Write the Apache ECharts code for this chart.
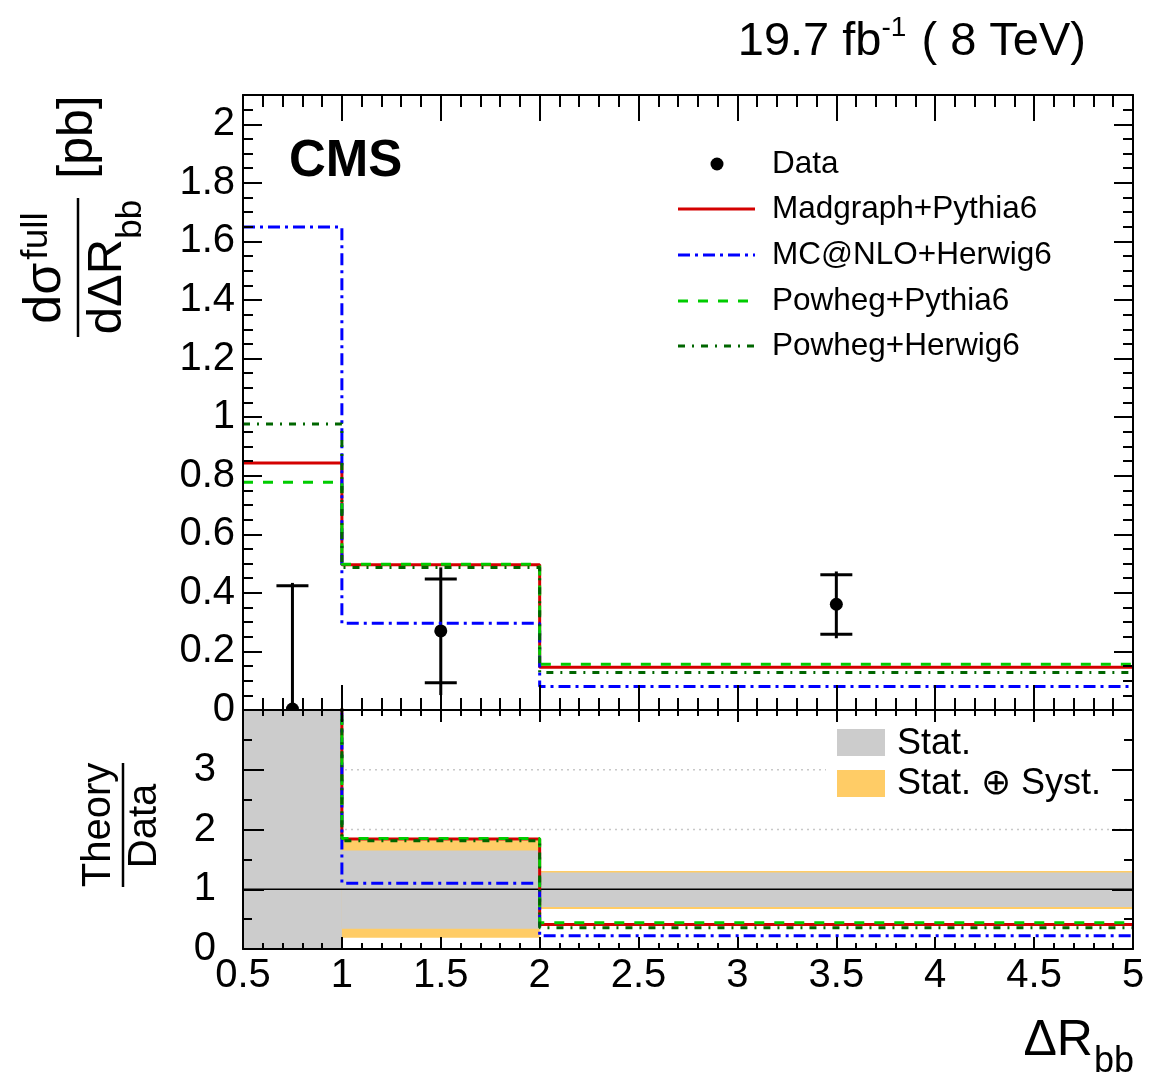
<!DOCTYPE html>
<html><head><meta charset="utf-8">
<script src="https://cdn.jsdelivr.net/npm/echarts@6/dist/echarts.min.js"></script>
<style>html,body{margin:0;padding:0;background:#fff}#c{width:1165px;height:1074px}</style>
</head><body><div id="c"></div>
<script>
// ---- data ----
const binEdges = [0.5, 1, 2, 5];
const madgraph = [0.843, 0.496, 0.146];
const mcatnlo = [1.649, 0.296, 0.080];
const powhegPythia = [0.778, 0.498, 0.156];
const powhegHerwig = [0.977, 0.487, 0.128];

const dataX = [0.75, 1.5, 3.5];
const dataY = [0.003, 0.270, 0.361];
const statLo = [0.000, 0.093, 0.259];
const statHi = [0.424, 0.447, 0.462];
const totLo = [0.000, 0.051, 0.245];
const totHi = [0.434, 0.487, 0.473];

// ratio panel (first bin is off-scale, data ~ 0)
const ratioMadgraph = [280, 1.84, 0.41];
const ratioMcatnlo = [550, 1.10, 0.22];
const ratioPowhegPythia = [260, 1.85, 0.44];
const ratioPowhegHerwig = [325, 1.81, 0.355];
const bandStatLo = [0, 0.34, 0.705];
const bandStatHi = [4, 1.65, 1.28];
const bandTotLo = [0, 0.19, 0.67];
const bandTotHi = [4, 1.82, 1.305];
const ratioRefLines = [1, 2, 3];

const legendNames = ['Data', 'Madgraph+Pythia6', 'MC@NLO+Herwig6', 'Powheg+Pythia6', 'Powheg+Herwig6'];

// ---- styles ----
const FONT = "'Liberation Sans', Arial, Helvetica, sans-serif";
const sty = {
  mad: { color: '#d40000', type: 'solid' },
  mc: { color: '#0000ff', type: [12, 5, 3, 5] },
  pp: { color: '#00cc00', type: [10, 10] },
  ph: { color: '#006600', type: [7, 7, 2, 7] }
};
const LW = 3;

function stepPts(v) {
  return [[binEdges[0], v[0]], [binEdges[1], v[1]], [binEdges[2], v[2]], [binEdges[3], v[2]]];
}
function stepSeries(name, v, s, xi, yi) {
  return {
    name, type: 'line', step: 'end', data: stepPts(v), symbol: 'none', clip: true,
    xAxisIndex: xi, yAxisIndex: yi, z: 7, silent: true, animation: false,
    lineStyle: { color: s.color, width: LW, type: s.type }
  };
}
function bandData(lo, hi) {
  return lo.map((l, i) => [binEdges[i], binEdges[i + 1], l, hi[i]]);
}
function bandSeries(lo, hi, color, z) {
  return {
    type: 'custom', xAxisIndex: 2, yAxisIndex: 4, clip: true, z, silent: true, animation: false,
    data: bandData(lo, hi),
    renderItem(params, api) {
      const p0 = api.coord([api.value(0), api.value(3)]);
      const p1 = api.coord([api.value(1), api.value(2)]);
      return { type: 'rect', shape: { x: p0[0], y: p0[1], width: p1[0] - p0[0], height: p1[1] - p0[1] }, style: { fill: color } };
    }
  };
}

const tickStyle = { color: '#000', width: 2 };
const axisLine = { show: true, onZero: false, lineStyle: { color: '#000', width: 2 } };
function xAx(grid, pos, major, minor, labels) {
  return {
    type: 'value', gridIndex: grid, position: pos, min: 0.5, max: 5, interval: 0.5, z: 10,
    axisLine, splitLine: { show: false },
    axisTick: { show: true, inside: true, length: major, lineStyle: tickStyle },
    minorTick: { show: true, splitNumber: 5, length: minor, lineStyle: tickStyle },
    axisLabel: labels ? { show: true, fontSize: 40, fontFamily: FONT, color: '#000', margin: 7 } : { show: false }
  };
}
function yAx(grid, pos, min, max, interval, len, labels, extra) {
  return Object.assign({
    type: 'value', gridIndex: grid, position: pos, min, max, interval, z: 10,
    axisLine, splitLine: { show: false },
    axisTick: { show: true, inside: true, length: len, lineStyle: tickStyle },
    axisLabel: labels ? Object.assign({ show: true, fontSize: 40, fontFamily: FONT, color: '#000', showMaxLabel: false }, labels) : { show: false }
  }, extra || {});
}

const chart = echarts.init(document.getElementById('c'), null, { renderer: 'canvas' });

const series = [
  // upper panel theory histograms
  stepSeries('Madgraph+Pythia6', madgraph, sty.mad, 0, 0),
  stepSeries('MC@NLO+Herwig6', mcatnlo, sty.mc, 0, 0),
  stepSeries('Powheg+Pythia6', powhegPythia, sty.pp, 0, 0),
  stepSeries('Powheg+Herwig6', powhegHerwig, sty.ph, 0, 0),
  // data points
  {
    name: 'Data', type: 'custom', xAxisIndex: 0, yAxisIndex: 0, z: 5, silent: true, animation: false,
    data: dataX.map((x, i) => [x, dataY[i], statLo[i], statHi[i], totLo[i], totHi[i]]),
    renderItem(params, api) {
      const x = api.value(0);
      const c = api.coord([x, api.value(1)]);
      const tl = api.coord([x, api.value(4)]), th = api.coord([x, api.value(5)]);
      const sl = api.coord([x, api.value(2)]), sh = api.coord([x, api.value(3)]);
      const ls = { stroke: '#000', lineWidth: 3 };
      const ch = [
        { type: 'line', shape: { x1: c[0], y1: th[1], x2: c[0], y2: tl[1] }, style: ls },
        { type: 'line', shape: { x1: c[0] - 16, y1: sh[1], x2: c[0] + 16, y2: sh[1] }, style: ls },
        { type: 'circle', shape: { cx: c[0], cy: c[1], r: 6.5 }, style: { fill: '#000' } }
      ];
      if (api.value(2) > 0) ch.push({ type: 'line', shape: { x1: c[0] - 16, y1: sl[1], x2: c[0] + 16, y2: sl[1] }, style: ls });
      return { type: 'group', children: ch };
    }
  },
  // ratio panel bands
  bandSeries(bandTotLo, bandTotHi, '#ffcc66', 6),
  bandSeries(bandStatLo, bandStatHi, '#cccccc', 6),
  // reference lines
  ...ratioRefLines.map(r => ({
    type: 'line', xAxisIndex: 2, yAxisIndex: 4, symbol: 'none', z: r === 1 ? 6.5 : 5.5, silent: true, animation: false,
    data: [[binEdges[0], r], [binEdges[3], r]],
    lineStyle: r === 1 ? { color: '#000', width: 1.5, type: 'solid' } : { color: '#c8c8c8', width: 1.5, type: [2, 4] }
  })),
  // ratio histograms
  stepSeries('r1', ratioMadgraph, sty.mad, 2, 4),
  stepSeries('r2', ratioMcatnlo, sty.mc, 2, 4),
  stepSeries('r3', ratioPowhegPythia, sty.pp, 2, 4),
  stepSeries('r4', ratioPowhegHerwig, sty.ph, 2, 4)
];

// legend graphics (upper)
const legRows = [164, 209, 255, 301, 346];
const legStyles = [null, sty.mad, sty.mc, sty.pp, sty.ph];
const graphics = [];
legendNames.forEach((n, i) => {
  const y = legRows[i];
  if (i === 0) {
    graphics.push({ type: 'circle', shape: { cx: 717, cy: y, r: 6.5 }, style: { fill: '#000' }, z: 100 });
  } else {
    const s = legStyles[i];
    graphics.push({ type: 'line', shape: { x1: 678, y1: y, x2: 755, y2: y }, style: { stroke: s.color, lineWidth: LW, lineDash: s.type === 'solid' ? null : s.type }, z: 100 });
  }
  graphics.push({ type: 'text', x: 772, y: y, style: { text: n, font: `31.5px ${FONT}`, fill: '#000', verticalAlign: 'middle' }, z: 100 });
});
// lower legend
graphics.push({ type: 'rect', shape: { x: 826, y: 722, width: 284, height: 84 }, style: { fill: '#fff' }, z: 50 });
graphics.push({ type: 'rect', shape: { x: 837, y: 729, width: 48, height: 27 }, style: { fill: '#cccccc' }, z: 100 });
graphics.push({ type: 'rect', shape: { x: 837, y: 770, width: 48, height: 27 }, style: { fill: '#ffcc66' }, z: 100 });
graphics.push({ type: 'text', x: 897, y: 744, style: { text: 'Stat.', font: `36px ${FONT}`, fill: '#000', verticalAlign: 'middle' }, z: 100 });
graphics.push({ type: 'text', x: 897, y: 784, style: { text: 'Stat. \u2295 Syst.', font: `36px ${FONT}`, fill: '#000', verticalAlign: 'middle' }, z: 100 });
// CMS
graphics.push({ type: 'text', x: 289, y: 162, style: { text: 'CMS', font: `bold 51px ${FONT}`, fill: '#000', verticalAlign: 'middle' }, z: 100 });
// lumi
graphics.push({ type: 'text', x: 1086, y: 40, style: {
  text: '{a|19.7 fb}{s|-1}{a| ( 8 TeV)}', align: 'right', verticalAlign: 'middle',
  rich: { a: { font: `47px ${FONT}`, fill: '#000', lineHeight: 52, verticalAlign: 'bottom' },
          s: { font: `28px ${FONT}`, fill: '#000', lineHeight: 52, verticalAlign: 'top', padding: [0, 2, 0, 0] } } }, z: 100 });
// x title
graphics.push({ type: 'text', x: 1134, y: 1044, style: {
  text: '{a|\u0394R}{s|bb}', align: 'right', verticalAlign: 'middle',
  rich: { a: { font: `50px ${FONT}`, fill: '#000', lineHeight: 56, verticalAlign: 'top' },
          s: { font: `36px ${FONT}`, fill: '#000', lineHeight: 56, verticalAlign: 'bottom', padding: [0, 0, -8, 1] } } }, z: 100 });
// upper y title (rotated)
const R = Math.PI / 2;
graphics.push({ type: 'line', shape: { x1: 78, y1: 198, x2: 78, y2: 337 }, style: { stroke: '#000', lineWidth: 2.5 }, z: 100 });
graphics.push({ type: 'text', x: 72, y: 268, rotation: R, style: {
  text: '{a|d\u03c3}{s|full}', align: 'center', verticalAlign: 'bottom',
  rich: { a: { font: `52px ${FONT}`, fill: '#000', lineHeight: 54, verticalAlign: 'bottom' },
          s: { font: `37px ${FONT}`, fill: '#000', lineHeight: 54, verticalAlign: 'top', padding: [0, 0, 0, 3] } } }, z: 100 });
graphics.push({ type: 'text', x: 83, y: 267, rotation: R, style: {
  text: '{a|d\u0394R}{s|bb}', align: 'center', verticalAlign: 'top',
  rich: { a: { font: `49px ${FONT}`, fill: '#000', lineHeight: 56, verticalAlign: 'top' },
          s: { font: `35px ${FONT}`, fill: '#000', lineHeight: 56, verticalAlign: 'bottom', padding: [0, 0, -10, 0] } } }, z: 100 });
graphics.push({ type: 'text', x: 78, y: 137, rotation: R, style: { text: '[pb]', font: `50px ${FONT}`, fill: '#000', align: 'center', verticalAlign: 'middle' }, z: 100 });
// lower y title
graphics.push({ type: 'line', shape: { x1: 123, y1: 763, x2: 123, y2: 887 }, style: { stroke: '#000', lineWidth: 2.5 }, z: 100 });
graphics.push({ type: 'text', x: 119, y: 825, rotation: R, style: { text: 'Theory', font: `40px ${FONT}`, fill: '#000', align: 'center', verticalAlign: 'bottom' }, z: 100 });
graphics.push({ type: 'text', x: 125, y: 826, rotation: R, style: { text: 'Data', font: `40px ${FONT}`, fill: '#000', align: 'center', verticalAlign: 'top' }, z: 100 });

chart.setOption({
  animation: false,
  backgroundColor: '#fff',
  grid: [
    { left: 243, top: 95, width: 890, height: 615 },
    { left: 243, top: 710, width: 890, height: 239 }
  ],
  xAxis: [
    xAx(0, 'bottom', 25, 12, false),
    xAx(0, 'top', 26, 12, false),
    xAx(1, 'bottom', 12, 6, true),
    xAx(1, 'top', 12, 6, false)
  ],
  yAxis: [
    yAx(0, 'left', 0, 2.1, 0.2, 19, { margin: 8 }),
    yAx(0, 'left', 0, 2.1, 0.05, 10, null, { axisLine: { show: false } }),
    yAx(0, 'right', 0, 2.1, 0.2, 19, null),
    yAx(0, 'right', 0, 2.1, 0.05, 10, null, { axisLine: { show: false } }),
    yAx(1, 'left', 0, 4, 1, 21, { margin: 27 }, { minorTick: { show: true, splitNumber: 2, length: 9, lineStyle: tickStyle } }),
    yAx(1, 'right', 0, 4, 1, 21, null, { minorTick: { show: true, splitNumber: 2, length: 9, lineStyle: tickStyle } })
  ],
  series,
  graphic: { elements: graphics }
});
</script>
</body></html>
